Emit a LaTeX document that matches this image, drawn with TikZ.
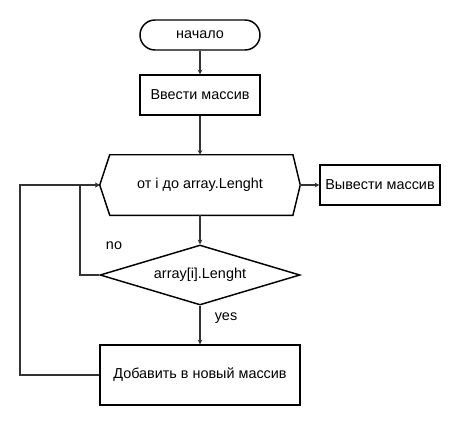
\documentclass[tikz,border=0pt]{standalone}
\usepackage{fontspec}
\setmainfont{Liberation Sans}
\usetikzlibrary{shapes.geometric,arrows.meta}
\begin{document}
\begin{tikzpicture}[x=0.75pt,y=-0.75pt,
  every node/.style={font=\fontsize{10.8}{13}\selectfont, text=black},
  box/.style={draw=black, line width=1.1pt, rectangle, inner sep=0pt},
  term/.style={box, rounded corners=11.25pt},
  cond/.style={draw=black, line width=1.1pt, diamond, aspect=3.33, inner sep=0pt, minimum width=150pt, minimum height=45pt},
  conn/.style={draw=black!80, line width=0.9pt},
  arr/.style={conn, -{Stealth[length=3.5pt,width=3.5pt]}},
  lbl/.style={inner sep=0pt}
]
\useasboundingbox (0,0) rectangle (460,425);
\node[term, minimum width=90pt, minimum height=22.5pt] (start) at (200,35) {начало};
\node[box, minimum width=90pt, minimum height=30pt] (input) at (200,95) {Ввести массив};
\node[inner sep=0pt, minimum width=150pt, minimum height=45pt] (loop) at (200,185) {от i до array.Lenght};
\draw[line width=1.1pt, line join=miter] (loop.west) -- ([xshift=7.5pt]loop.north west) -- ([xshift=-5.5pt]loop.north east) -- (loop.east) -- ([xshift=-5.5pt]loop.south east) -- ([xshift=7.5pt]loop.south west) -- cycle;
\node[box, minimum width=90pt, minimum height=30pt] (output) at (380,185) {Вывести массив};
\node[cond] (check) at (200,275) {array[i].Lenght};
\node[box, minimum width=150pt, minimum height=45pt] (add) at (200,375) {Добавить в новый массив};
\coordinate (nocorner) at (80,275);
\coordinate (loopcorner) at (20,375);

\draw[arr] (start) -- (input);
\draw[arr] (input) -- (loop);
\draw[arr] (loop.east) -- (output);
\draw[arr] (loop.south) -- (check);
\draw[arr] (check) -- (add);
\draw[arr] (check.west) -- (nocorner) |- (loop.west);
\draw[arr] (add.west) -- (loopcorner) |- (loop.west);
\node[lbl] (nolbl) at (114,246) {no};
\node[lbl] (yeslbl) at (226,318) {yes};
\end{tikzpicture}
\end{document}
